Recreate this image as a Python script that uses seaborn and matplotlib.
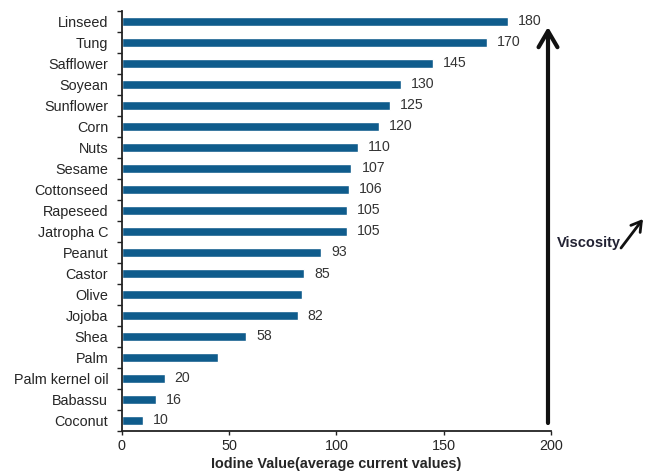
import matplotlib
matplotlib.use("Agg")
import matplotlib.pyplot as plt
import seaborn as sns
import pandas as pd
import numpy as np
from matplotlib.ticker import FixedLocator
from matplotlib.patches import FancyArrowPatch

# Oils ranked by iodine value
oils = ["Linseed", "Tung", "Safflower", "Soyean", "Sunflower", "Corn", "Nuts",
        "Sesame", "Cottonseed", "Rapeseed", "Jatropha C", "Peanut", "Castor",
        "Olive", "Jojoba", "Shea", "Palm", "Palm kernel oil", "Babassu", "Coconut"]
iodine = [180, 170, 145, 130, 125, 120, 110, 107, 106, 105, 105, 93, 85,
          84, 82, 58, 45, 20, 16, 10]
# value annotations (Olive and Palm carry none)
value_labels = ["180", "170", "145", "130", "125", "120", "110", "107", "106",
                "105", "105", "93", "85", "", "82", "58", "", "20", "16", "10"]
x_ticks = [0, 50, 100, 150, 200]

BAR = "#0F5C8C"
INK = "#262626"

sns.set_theme(style="white")
plt.rcParams["font.family"] = ["Liberation Sans", "DejaVu Sans"]

W, H = 649, 473
fig = plt.figure(figsize=(W / 100, H / 100), dpi=100)
ax = fig.add_axes([121.7 / W, 1 - 431 / H, (551 - 121.7) / W, 420 / H])

df = pd.DataFrame({"oil": oils, "iodine": iodine})
sns.barplot(data=df, x="iodine", y="oil", color=BAR, saturation=1,
            width=0.42, ax=ax)

ax.bar_label(ax.containers[0], labels=value_labels, padding=7.2,
             fontsize=10.2, color="#333333")

ax.set_xlim(0, 200)
ax.set_xticks(x_ticks)
ax.set_ylim(len(oils) - 0.5, -0.5)
ax.yaxis.set_minor_locator(FixedLocator(np.arange(-0.5, len(oils), 1)))

sns.despine(ax=ax, top=True, right=True)
for side in ("left", "bottom"):
    ax.spines[side].set_color("#222222")
    ax.spines[side].set_linewidth(1.3)

ax.tick_params(axis="y", which="major", left=False, length=0, pad=9.6,
               labelsize=10.4, labelcolor=INK)
ax.tick_params(axis="y", which="minor", left=True, length=3.6, width=1,
               color="#222222")
ax.tick_params(axis="x", which="major", bottom=True, length=3, width=1,
               color="#222222", labelsize=10.4, labelcolor=INK, pad=3)

ax.set_ylabel("")
ax.set_xlabel("Iodine Value(average current values)", fontsize=10.4,
              fontweight="bold", color=INK, labelpad=2.5)

# Viscosity arrow rising along the right edge
ax.annotate("", xy=(0.993, 0.962), xytext=(0.993, 0.019),
            xycoords="axes fraction", textcoords="axes fraction",
            arrowprops=dict(arrowstyle="->,head_length=0.58,head_width=0.34",
                            mutation_scale=20, lw=3, color="#111111",
                            shrinkA=0, shrinkB=0))

fig.text(557 / W, 1 - 243 / H, "Viscosity", fontsize=10.5, fontweight="bold",
         color="#222233", ha="left", va="center")
fig.add_artist(FancyArrowPatch(
    (621 / W, 1 - 248 / H), (643 / W, 1 - 219 / H),
    transform=fig.transFigure,
    arrowstyle="->,head_length=0.5,head_width=0.3", mutation_scale=14,
    lw=2, color="#111111", shrinkA=0, shrinkB=0))

fig.savefig("out.png", dpi=100)
